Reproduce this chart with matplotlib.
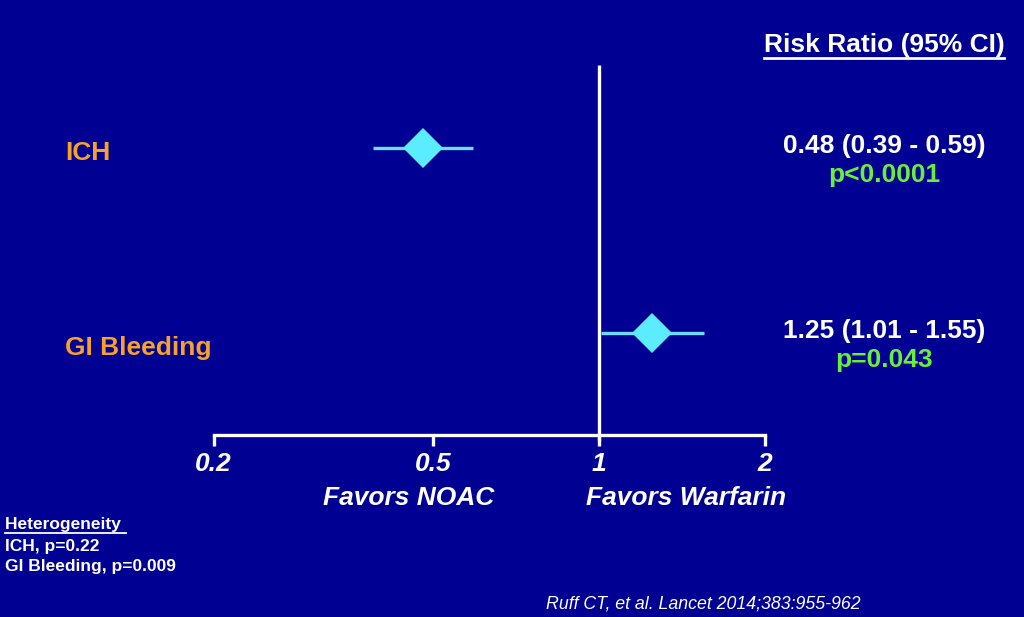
import matplotlib
matplotlib.use("Agg")
import matplotlib.pyplot as plt
from matplotlib.lines import Line2D

# data
outcomes = ["ICH", "GI Bleeding"]
rr = [0.48, 1.25]
ci_low = [0.39, 1.01]
ci_high = [0.59, 1.55]
rr_text = ["0.48 (0.39 - 0.59)", "1.25 (1.01 - 1.55)"]
p_text = ["p<0.0001", "p=0.043"]
ticks = [0.2, 0.5, 1, 2]
tick_labels = ["0.2", "0.5", "1", "2"]
heterogeneity = ["ICH, p=0.22", "GI Bleeding, p=0.009"]

# colours
bg = "#000092"
cyan = "#5cecff"
cyan_line = "#6fdcff"
orange = "#f8a12a"
green = "#66f03c"

plt.rcParams['font.family'] = ['Liberation Sans', 'DejaVu Sans']

W, H = 1024, 617
def fx(px): return px / W
def fy(py): return 1 - py / H

fig = plt.figure(figsize=(10.24, 6.17), dpi=100)
fig.patch.set_facecolor(bg)
ax = fig.add_axes([0, 0, 1, 1])
ax.set_facecolor(bg)
ax.set_xscale("log", base=2)
# pixel mapping: x = 599 + 166*log2(v); y = 148 + 185*row
ax.set_xlim(2 ** (-599 / 166), 2 ** (425 / 166))
ax.set_ylim(469 / 185, -148 / 185)
ax.axis("off")

rows = list(range(len(outcomes)))
axis_y = 287 / 185

# line of no effect
ax.plot([1, 1], [-83 / 185, axis_y + 6 / 185], color="white", lw=2.4, solid_capstyle="butt")

# x axis with ticks
ax.plot([ticks[0], ticks[-1]], [axis_y, axis_y], color="white", lw=2.4, solid_capstyle="projecting")
for t, lab in zip(ticks, tick_labels):
    ax.plot([t, t], [axis_y, axis_y + 11 / 185], color="white", lw=2.4, solid_capstyle="butt")
    ax.text(t, axis_y + 29 / 185, lab, color="white", fontsize=19, fontweight="bold",
            fontstyle="italic", ha="center", va="center")

# estimates
for r, est, lo, hi in zip(rows, rr, ci_low, ci_high):
    ax.plot([lo, hi], [r, r], color=cyan_line, lw=2.4, solid_capstyle="butt", zorder=2)
    ax.plot(est, r, marker="D", markersize=20.5, color=cyan, markeredgewidth=0, zorder=3)

# labels on the left
label_px = [153, 348]
for name, py in zip(outcomes, label_px):
    fig.text(fx(65), fy(py), name, color=orange, fontsize=19,
             fontweight="bold", ha="left", va="center")

# right column
title = fig.text(fx(884), fy(45), "Risk Ratio (95% CI)", color="white", fontsize=19,
                 fontweight="bold", ha="center", va="center")
for r, t, p in zip(rows, rr_text, p_text):
    yc = 148 + 185 * r
    fig.text(fx(884), fy(yc - 2), t, color="white", fontsize=19, fontweight="bold",
             ha="center", va="center")
    fig.text(fx(884), fy(yc + 27), p, color=green, fontsize=19, fontweight="bold",
             ha="center", va="center")

fig.text(fx(409), fy(498), "Favors NOAC", color="white", fontsize=19, fontweight="bold",
         fontstyle="italic", ha="center", va="center")
fig.text(fx(686), fy(498), "Favors Warfarin", color="white", fontsize=19, fontweight="bold",
         fontstyle="italic", ha="center", va="center")

het = fig.text(fx(5), fy(524), "Heterogeneity ", color="white", fontsize=12.5,
               fontweight="bold", ha="left", va="center")
for i, h in enumerate(heterogeneity):
    fig.text(fx(5), fy(546 + 21 * i), h, color="white", fontsize=12.5, fontweight="bold",
             ha="left", va="center")

fig.text(fx(703), fy(604), "Ruff CT, et al. Lancet 2014;383:955-962", color="white",
         fontsize=12.8, fontstyle="italic", ha="center", va="center")

# underlines
fig.canvas.draw()
renderer = fig.canvas.get_renderer()
for txt, lw in [(title, 2.0), (het, 1.3)]:
    bb = txt.get_window_extent(renderer)
    y = bb.y0 - 1
    fig.add_artist(Line2D([bb.x0 / W, bb.x1 / W], [y / H, y / H], color="white", lw=lw,
                          transform=fig.transFigure))

fig.savefig("out.png", dpi=100, facecolor=bg)
